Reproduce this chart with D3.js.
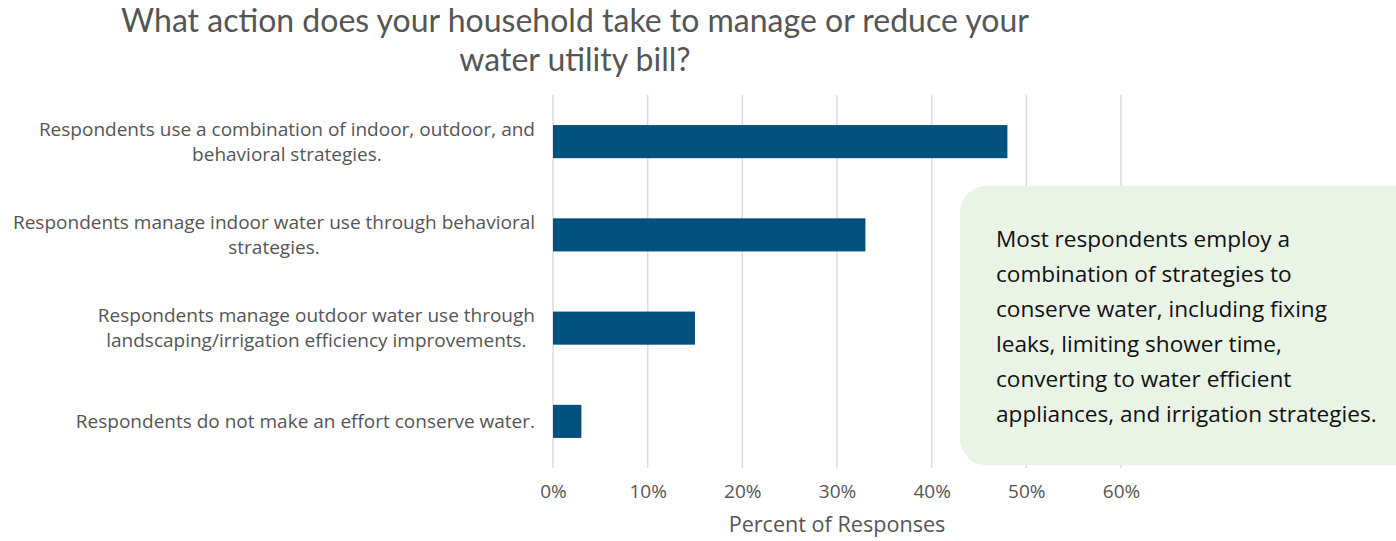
<!DOCTYPE html>
<html>
<head>
<meta charset="utf-8">
<script src="https://cdn.jsdelivr.net/npm/d3@7"></script>
<style>
  html, body { margin: 0; padding: 0; background: #fff; }
  svg { display: block; }
</style>
</head>
<body>
<svg id="chart" width="1396" height="541"></svg>
<script>
// ---- Data ----
const titleLines = ["What action does your household take to manage or reduce your", "water utility bill?"];
const categories = [
  ["Respondents use a combination of indoor, outdoor, and", "behavioral strategies."],
  ["Respondents manage indoor water use through behavioral", "strategies."],
  ["Respondents manage outdoor water use through", "landscaping/irrigation efficiency improvements."],
  ["Respondents do not make an effort conserve water."]
];
const values = [48, 33, 15, 3];
const xTicks = [0, 10, 20, 30, 40, 50, 60];
const xAxisTitle = "Percent of Responses";
const noteLines = [
  "Most respondents employ a",
  "combination of strategies to",
  "conserve water, including fixing",
  "leaks, limiting shower time,",
  "converting to water efficient",
  "appliances, and irrigation strategies."
];

// ---- Layout ----
const TFONT = "Lato, 'Open Sans', sans-serif";
const FONT = "'Open Sans', sans-serif";
const svg = d3.select("#chart");
const plotLeft = 553, plotRight = 1121, plotTop = 95, plotBottom = 468;

const x = d3.scaleLinear().domain([0, 60]).range([plotLeft, plotRight]);
const y = d3.scaleBand().domain(d3.range(categories.length)).range([plotTop, plotBottom])
  .paddingInner(0.645).paddingOuter(0.3225);

// Title
svg.append("text")
  .attr("x", 575).attr("y", 32)
  .attr("text-anchor", "middle")
  .attr("font-family", TFONT).attr("font-size", 32).attr("fill", "#555")
  .selectAll("tspan").data(titleLines).join("tspan")
  .attr("x", 575).attr("dy", (d, i) => i === 0 ? 0 : 39)
  .text(d => d);

// Gridlines
svg.append("g").selectAll("line").data(xTicks).join("line")
  .attr("x1", d => x(d)).attr("x2", d => x(d))
  .attr("y1", plotTop).attr("y2", plotBottom)
  .attr("stroke", "#dcdcdc").attr("stroke-width", 1.5);

// Bars
svg.append("g").selectAll("rect").data(values).join("rect")
  .attr("x", x(0)).attr("y", (d, i) => y(i))
  .attr("width", d => x(d) - x(0)).attr("height", y.bandwidth())
  .attr("fill", "#02527d");

// Category labels (multi-line block, lines centered, block right-aligned)
const lineH = 25;
const labelG = svg.append("g").attr("font-family", FONT).attr("font-size", 19).attr("fill", "#555");
categories.forEach((lines, i) => {
  const cy = y(i) + y.bandwidth() / 2;
  const t = labelG.append("text").attr("text-anchor", "middle");
  const startY = cy - (lines.length - 1) * lineH / 2 + 6.5;
  lines.forEach((l, j) => {
    t.append("tspan").attr("x", 0).attr("y", startY + j * lineH).text(l);
  });
  const widths = [];
  t.selectAll("tspan").each(function() { widths.push(this.getComputedTextLength()); });
  const w = d3.max(widths);
  const cx = 535 - w / 2;
  t.selectAll("tspan").attr("x", cx);
});

// X axis
const xAxis = d3.axisBottom(x).tickValues(xTicks).tickFormat(d => d + "%").tickSize(0).tickPadding(0);
const ax = svg.append("g").attr("transform", `translate(0,${plotBottom + 16})`).call(xAxis);
ax.select(".domain").remove();
ax.selectAll("text").attr("font-family", FONT).attr("font-size", 19).attr("fill", "#555").attr("dy", "0.71em");

svg.append("text")
  .attr("x", x(30)).attr("y", 532)
  .attr("text-anchor", "middle")
  .attr("font-family", FONT).attr("font-size", 21.6).attr("fill", "#555")
  .text(xAxisTitle);

// Annotation box
svg.append("rect")
  .attr("x", 960).attr("y", 186).attr("width", 470).attr("height", 279)
  .attr("rx", 26).attr("ry", 26)
  .attr("fill", "#e9f3e6");

svg.append("text")
  .attr("font-family", FONT).attr("font-size", 22.6).attr("fill", "#111")
  .selectAll("tspan").data(noteLines).join("tspan")
  .attr("x", 996).attr("y", (d, i) => 247 + i * 35)
  .text(d => d);
</script>
</body>
</html>
